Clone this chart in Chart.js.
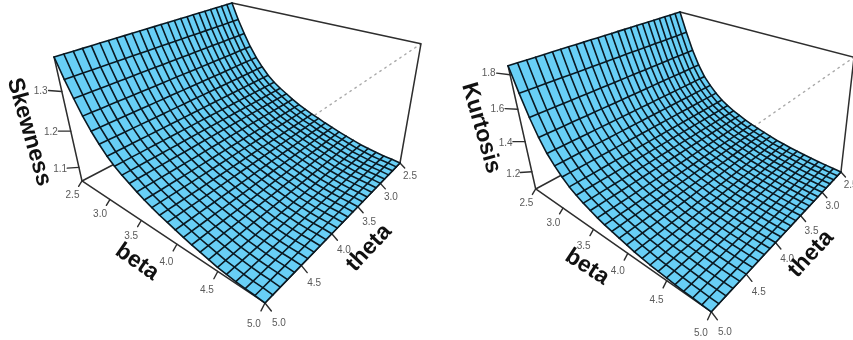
<!DOCTYPE html>
<html>
<head>
<meta charset="utf-8">
<style>
html,body{margin:0;padding:0;background:#fff;overflow:hidden}
canvas{display:block;filter:blur(0.4px)}
</style>
<script src="https://cdn.jsdelivr.net/npm/chart.js@4"></script>
</head>
<body>
<canvas id="c" width="853" height="340"></canvas>
<script>
// ---- data ----
const betaValues  = [2.5,2.6,2.7,2.8,2.9,3.0,3.1,3.2,3.3,3.4,3.5,3.6,3.7,3.8,3.9,4.0,4.1,4.2,4.3,4.4,4.5,4.6,4.7,4.8,4.9,5.0];
const thetaValues = [2.5,2.6,2.7,2.8,2.9,3.0,3.1,3.2,3.3,3.4,3.5,3.6,3.7,3.8,3.9,4.0,4.1,4.2,4.3,4.4,4.5,4.6,4.7,4.8,4.9,5.0];
const skewnessByBeta = [1.38,1.335,1.297,1.262,1.233,1.209,1.188,1.172,1.159,1.148,1.137,1.127,1.119,1.111,1.105,1.098,1.092,1.086,1.081,1.076,1.071,1.068,1.065,1.063,1.062,1.06];
const kurtosisByBeta = [1.85,1.711,1.588,1.488,1.411,1.357,1.311,1.273,1.246,1.222,1.203,1.184,1.169,1.157,1.145,1.134,1.122,1.115,1.107,1.102,1.097,1.092,1.088,1.085,1.082,1.08];
const betaTicks  = [2.5,3.0,3.5,4.0,4.5,5.0];
const thetaTicks = [2.5,3.0,3.5,4.0,4.5,5.0];
const skewnessTicks = [1.1,1.2,1.3];
const kurtosisTicks = [1.2,1.4,1.6,1.8];

// ---- view set-up: perspective cameras of the two panels ----
const panels = [
  { zValues: skewnessByBeta, zTicks: skewnessTicks, zMin: 1.06, zMax: 1.38,
    cam: { o:[234.74,101.24,1], u:[81.06,27.45,-0.2105], v:[-173.42,34.11,-0.2522], w:[-26.4,-98.55,-0.102] },
    titles: [ {t:'Skewness', x:29,  y:132, a:74},
              {t:'beta',     x:137, y:262, a:35},
              {t:'theta',    x:369, y:248, a:-47} ] },
  { zValues: kurtosisByBeta, zTicks: kurtosisTicks, zMin: 1.08, zMax: 1.85,
    cam: { o:[685.1,108.3,1], u:[-9.4,29.9,-0.1965], v:[-287.4,32.0,-0.2576], w:[-66.1,-97.38,-0.0897] },
    titles: [ {t:'Kurtosis', x:481, y:128, a:74},
              {t:'beta',     x:587, y:267, a:33},
              {t:'theta',    x:811, y:254, a:-47} ] }
];
const bMin = betaValues[0], bMax = betaValues[betaValues.length-1];
const tMin = thetaValues[0], tMax = thetaValues[thetaValues.length-1];

function projUVW(cam,u,v,w){
  const h = i => cam.o[i]+u*cam.u[i]+v*cam.v[i]+w*cam.w[i];
  return { x:h(0)/h(2), y:h(1)/h(2) };
}
function makeProject(p){
  return {
    uvw:(u,v,w)=>projUVW(p.cam,u,v,w),
    val:(b,t,z)=>projUVW(p.cam,(b-bMin)/(bMax-bMin),(t-tMin)/(tMax-tMin),(z-p.zMin)/(p.zMax-p.zMin))
  };
}

const FILL='#68cff6', GRID='#0a1922', AXIS='#2e2e2e', DOT='#a9a9a9';
const paint=[];   // datasets in painting order
const textItems=[];
function line(data,color,width,extra){
  paint.push(Object.assign({data,showLine:true,pointRadius:0,borderColor:color,borderWidth:width,
    backgroundColor:'transparent',fill:false,tension:0,borderCapStyle:'round',borderJoinStyle:'round'},extra||{}));
}

panels.forEach(p=>{
  const P=makeProject(p);
  // box
  line([P.uvw(1,0,1),P.uvw(1,1,1)],DOT,1.4,{borderDash:[1.5,4.5]});
  line([P.uvw(0,1,0),P.uvw(0,0,0)],AXIS,1.5);
  line([P.uvw(0,0,1),P.uvw(1,0,1),P.uvw(1,0,0)],AXIS,1.5);
  line([P.uvw(0,1,1),P.uvw(0,1,0),P.uvw(1,1,0),P.uvw(1,0,0)],AXIS,1.5);
  // ticks and tick labels
  const wOf=z=>(z-p.zMin)/(p.zMax-p.zMin);
  betaTicks.forEach(b=>{
    const u=(b-bMin)/(bMax-bMin);
    line([P.uvw(u,1,0),P.uvw(u,1.02,-0.03)],AXIS,1.4);
    textItems.push({t:b.toFixed(1),pos:P.uvw(u,1.055,-0.075)});
  });
  thetaTicks.forEach(t=>{
    const v=(t-tMin)/(tMax-tMin);
    line([P.uvw(1,v,0),P.uvw(1.025,v,-0.03)],AXIS,1.4);
    textItems.push({t:t.toFixed(1),pos:P.uvw(1.055,v,-0.085)});
  });
  p.zTicks.forEach(z=>{
    const w=wOf(z);
    line([P.uvw(0,1,w),P.uvw(0,1.05,w+0.04)],AXIS,1.4);
    textItems.push({t:z.toFixed(1),pos:P.uvw(0,1.08,w+0.055)});
  });
  // surface outline fill
  const outline=[];
  betaValues.forEach((b,i)=>outline.push(P.val(b,tMin,p.zValues[i])));
  thetaValues.forEach(t=>outline.push(P.val(bMax,t,p.zValues[p.zValues.length-1])));
  betaValues.slice().reverse().forEach((b,i)=>outline.push(P.val(b,tMax,p.zValues[p.zValues.length-1-i])));
  thetaValues.slice().reverse().forEach(t=>outline.push(P.val(bMin,t,p.zValues[0])));
  paint.push({data:outline,showLine:true,pointRadius:0,borderColor:FILL,borderWidth:0,backgroundColor:FILL,fill:'shape',tension:0});
  // surface mesh
  betaValues.forEach((b,i)=>line(thetaValues.map(t=>P.val(b,t,p.zValues[i])),GRID,1.6));
  thetaValues.forEach(t=>line(betaValues.map((b,i)=>P.val(b,t,p.zValues[i])),GRID,1.6));
  p.titles.forEach(o=>textItems.push({title:true,t:o.t,pos:{x:o.x,y:o.y},a:o.a}));
});

const textPlugin={
  id:'surfaceText',
  afterDraw(chart){
    const ctx=chart.ctx, sx=chart.scales.x, sy=chart.scales.y;
    ctx.save();
    ctx.textAlign='center'; ctx.textBaseline='middle';
    textItems.forEach(o=>{
      const x=sx.getPixelForValue(o.pos.x), y=sy.getPixelForValue(o.pos.y);
      ctx.save();
      ctx.translate(x,y);
      if(o.title){
        ctx.rotate(o.a*Math.PI/180);
        ctx.font='bold 23px "Liberation Sans", Arial, sans-serif';
        ctx.fillStyle='#111';
      }else{
        ctx.font='10px "Liberation Sans", Arial, sans-serif';
        ctx.fillStyle='#5a5a5a';
      }
      ctx.fillText(o.t,0,0);
      ctx.restore();
    });
    ctx.restore();
  }
};

paint.forEach((d,i)=>{d.order=paint.length-i; d.clip=false;});

new Chart(document.getElementById('c').getContext('2d'),{
  type:'scatter',
  data:{datasets:paint},
  options:{
    responsive:false,animation:false,
    layout:{padding:0},
    plugins:{legend:{display:false},tooltip:{enabled:false},title:{display:false}},
    scales:{
      x:{type:'linear',min:0,max:853,display:false},
      y:{type:'linear',min:0,max:340,reverse:true,display:false}
    }
  },
  plugins:[textPlugin]
});
</script>
</body>
</html>
